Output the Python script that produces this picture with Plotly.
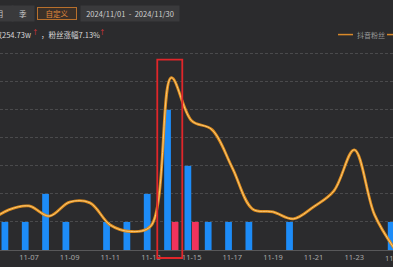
import plotly.graph_objects as go

dates = ["11-05", "11-06", "11-07", "11-08", "11-09", "11-10", "11-11", "11-12",
         "11-13", "11-14", "11-15", "11-16", "11-17", "11-18", "11-19", "11-20",
         "11-21", "11-22", "11-23", "11-24", "11-25"]
works = [1, 1, 1, 2, 1, 0, 1, 1, 2, 5, 3, 1, 1, 1, 0, 1, 0, 0, 0, 0, 1]
hits = [0, 0, 0, 0, 0, 0, 0, 0, 0, 1, 1, 0, 0, 0, 0, 0, 0, 0, 0, 0, 0]
fans = [1.0, 1.43, 1.57, 1.21, 1.71, 1.68, 0.89, 0.66, 0.86, 6.14, 4.61, 4.29,
        2.93, 1.46, 1.36, 1.11, 1.54, 2.11, 3.57, 1.25, 0.02]
tick_labels = ["11-05", "11-07", "11-09", "11-11", "11-13", "11-15", "11-17",
               "11-19", "11-21", "11-23", "11-25"]
highlight = "11-14"

BG = "#2b2b2d"
W, H = 393, 267
TOP, BOT = 48.4, 17
PH = H - TOP - BOT
XR = [0.574, 19.905]
YR = [0, 7.2]
FONT = "Noto Sans CJK SC"


def px(x):
    return x / W


def py(y):
    return (H - BOT - y) / PH


def xidx(cat):
    return (dates.index(cat) - XR[0]) / (XR[1] - XR[0])


fig = go.Figure()
fig.add_bar(x=dates, y=works, name="作品数", marker=dict(color="#1d8cf8", line_width=0))
fig.add_bar(x=dates, y=hits, name="爆款数", marker=dict(color="#f2335c", line_width=0))
fig.add_scatter(x=dates, y=fans, mode="lines", yaxis="y2", name="抖音粉丝",
                line=dict(shape="spline", smoothing=1.0, color="#e08c1a", width=2.8))
fig.add_scatter(x=dates, y=fans, mode="lines", yaxis="y2", showlegend=False,
                line=dict(shape="spline", smoothing=1.0, color="#f8c878", width=1.0))

hi = dates.index(highlight)
shapes = [
    dict(type="rect", xref="x", yref="paper", x0=hi - 0.69, x1=hi + 0.54,
         y0=py(258), y1=py(60), line=dict(color="#e0262a", width=1.8),
         fillcolor="rgba(0,0,0,0)", layer="above"),
    dict(type="line", xref="paper", yref="paper", x0=px(338), x1=px(353),
         y0=py(35), y1=py(35), line=dict(color="#d9892a", width=1.5)),
    dict(type="line", xref="paper", yref="paper", x0=px(387), x1=px(396),
         y0=py(35), y1=py(35), line=dict(color="#d9892a", width=1.5)),
]

btn_font = dict(family=FONT, size=7.5, color="#c8c8c8")
annotations = [
    dict(text="月", x=px(0), y=py(13.5), width=24, height=13, bgcolor="#3a3a3c",
         font=btn_font),
    dict(text="季", x=px(23), y=py(13.5), width=20, height=13, bgcolor="#3a3a3c",
         font=btn_font),
    dict(text="自定义", x=px(57), y=py(13.5), width=38, height=11, bgcolor="#3a3029",
         bordercolor="#b8702c", borderwidth=1, borderpad=0,
         font=dict(family=FONT, size=7.5, color="#e08a3c")),
    dict(text="2024/11/01  -  2024/11/30", x=px(130), y=py(13.5), width=96, height=13,
         bgcolor="#3a3a3c", font=dict(family=FONT, size=7.5, color="#d0d0d0")),
    dict(text="粉丝总数254.73w", x=px(32.5), y=py(35), xanchor="right",
         font=dict(family=FONT, size=7.5, color="#d8d8d8")),
    dict(text="↑", x=px(35.5), y=py(32), font=dict(family=FONT, size=6.5, color="#e8343a")),
    dict(text="，粉丝涨幅7.13%", x=px(39), y=py(35), xanchor="left",
         font=dict(family=FONT, size=7.5, color="#d8d8d8")),
    dict(text="↑", x=px(102.5), y=py(32), font=dict(family=FONT, size=6.5, color="#e8343a")),
    dict(text="抖音粉丝", x=px(355), y=py(35), xanchor="left",
         font=dict(family=FONT, size=7, color="#9a9a9a")),
    dict(text="11-25", xref="paper", x=xidx("11-25"), y=py(257.5),
         font=dict(family="Noto Sans", size=7.5, color="#a8a8a8")),
]
for a in annotations:
    a.setdefault("xref", "paper")
    a.setdefault("yref", "paper")
    a.setdefault("showarrow", False)
    a.setdefault("xanchor", "center")
    a.setdefault("yanchor", "middle")

fig.update_layout(
    width=W, height=H,
    margin=dict(l=0, r=0, t=TOP, b=BOT, pad=0),
    paper_bgcolor=BG, plot_bgcolor=BG,
    barmode="group", bargap=0.26, bargroupgap=0.1,
    showlegend=False,
    xaxis=dict(type="category", range=XR, tickvals=tick_labels, ticktext=tick_labels,
               tickfont=dict(family="Noto Sans", size=7.5, color="#a8a8a8"),
               showgrid=False, showline=True, linecolor="#58585a", linewidth=1,
               ticks="", zeroline=False, fixedrange=True),
    yaxis=dict(range=YR, dtick=1, showticklabels=False, showgrid=True,
               gridcolor="#4a4a4c", griddash="3px,2px", gridwidth=1, zeroline=False),
    yaxis2=dict(range=YR, overlaying="y", visible=False),
    shapes=shapes, annotations=annotations,
)

fig.write_html("out.html")
